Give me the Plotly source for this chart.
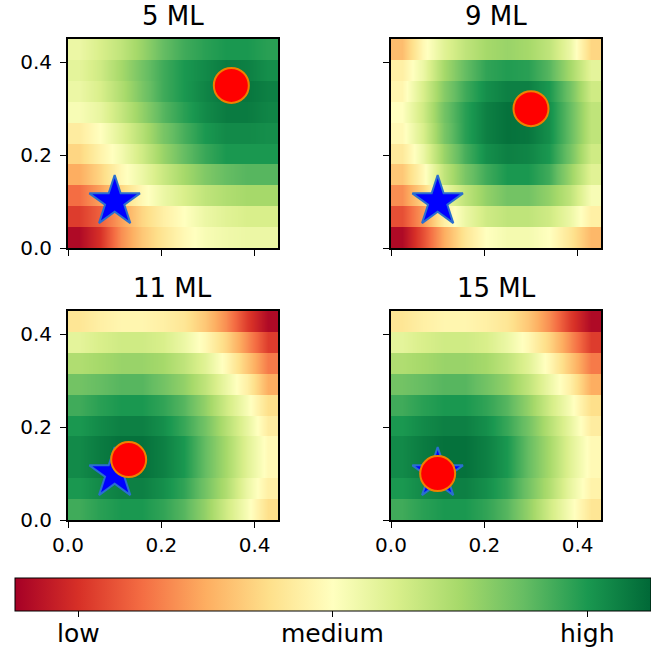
import numpy as np
import plotly.graph_objects as go

# ---------------- data ----------------
TITLES = ["5 ML", "9 ML", "11 ML", "15 ML"]
N_COLS = 10
N_ROWS = 10
X_MAX = 0.45
Y_MAX = 0.45

# normalised values (0 = low / red, 1 = high / green); rows bottom -> top, columns left -> right
Z_5ML = [
    [0.02, 0.10, 0.25, 0.35, 0.42, 0.48, 0.52, 0.54, 0.55, 0.55],
    [0.12, 0.18, 0.28, 0.38, 0.45, 0.50, 0.55, 0.58, 0.60, 0.60],
    [0.20, 0.28, 0.38, 0.48, 0.55, 0.60, 0.65, 0.68, 0.70, 0.70],
    [0.30, 0.38, 0.48, 0.55, 0.63, 0.70, 0.76, 0.80, 0.82, 0.82],
    [0.38, 0.46, 0.53, 0.62, 0.72, 0.80, 0.86, 0.90, 0.90, 0.90],
    [0.44, 0.50, 0.58, 0.67, 0.77, 0.84, 0.90, 0.93, 0.93, 0.92],
    [0.52, 0.56, 0.64, 0.73, 0.82, 0.88, 0.93, 0.96, 0.96, 0.94],
    [0.55, 0.60, 0.68, 0.77, 0.85, 0.90, 0.94, 0.97, 0.97, 0.95],
    [0.57, 0.62, 0.70, 0.78, 0.85, 0.90, 0.93, 0.96, 0.95, 0.92],
    [0.55, 0.60, 0.65, 0.72, 0.80, 0.85, 0.88, 0.90, 0.90, 0.88],
]
Z_9ML = [
    [0.02, 0.15, 0.30, 0.42, 0.50, 0.53, 0.53, 0.50, 0.42, 0.32],
    [0.15, 0.27, 0.45, 0.55, 0.62, 0.65, 0.65, 0.62, 0.55, 0.45],
    [0.25, 0.38, 0.55, 0.65, 0.73, 0.78, 0.78, 0.73, 0.65, 0.52],
    [0.35, 0.48, 0.65, 0.77, 0.85, 0.90, 0.90, 0.85, 0.72, 0.58],
    [0.43, 0.55, 0.72, 0.84, 0.92, 0.95, 0.94, 0.90, 0.78, 0.62],
    [0.48, 0.60, 0.77, 0.88, 0.95, 0.98, 0.97, 0.92, 0.80, 0.65],
    [0.50, 0.62, 0.78, 0.88, 0.95, 0.98, 0.97, 0.92, 0.80, 0.65],
    [0.47, 0.60, 0.75, 0.85, 0.92, 0.95, 0.95, 0.90, 0.78, 0.62],
    [0.45, 0.55, 0.70, 0.80, 0.87, 0.89, 0.88, 0.82, 0.70, 0.57],
    [0.33, 0.48, 0.58, 0.65, 0.70, 0.72, 0.70, 0.65, 0.55, 0.38],
]
Z_11ML = [
    [0.85, 0.88, 0.90, 0.90, 0.87, 0.82, 0.73, 0.62, 0.52, 0.40],
    [0.90, 0.93, 0.95, 0.95, 0.92, 0.87, 0.78, 0.68, 0.55, 0.45],
    [0.93, 0.96, 0.98, 0.98, 0.95, 0.90, 0.80, 0.70, 0.58, 0.48],
    [0.93, 0.96, 0.98, 0.98, 0.95, 0.90, 0.80, 0.70, 0.58, 0.48],
    [0.90, 0.93, 0.95, 0.95, 0.92, 0.86, 0.78, 0.67, 0.56, 0.44],
    [0.85, 0.88, 0.90, 0.90, 0.87, 0.82, 0.73, 0.62, 0.52, 0.40],
    [0.78, 0.80, 0.82, 0.82, 0.78, 0.73, 0.65, 0.55, 0.45, 0.30],
    [0.68, 0.70, 0.72, 0.72, 0.70, 0.65, 0.58, 0.48, 0.35, 0.22],
    [0.57, 0.60, 0.62, 0.62, 0.60, 0.55, 0.48, 0.38, 0.25, 0.12],
    [0.42, 0.45, 0.47, 0.47, 0.45, 0.42, 0.35, 0.25, 0.12, 0.02],
]
Z_15ML = [
    [0.85, 0.88, 0.90, 0.90, 0.87, 0.82, 0.73, 0.62, 0.52, 0.42],
    [0.90, 0.93, 0.95, 0.95, 0.92, 0.87, 0.78, 0.68, 0.56, 0.46],
    [0.93, 0.96, 0.98, 0.98, 0.95, 0.90, 0.80, 0.70, 0.58, 0.48],
    [0.93, 0.96, 0.98, 0.98, 0.95, 0.90, 0.80, 0.70, 0.58, 0.48],
    [0.90, 0.93, 0.95, 0.95, 0.92, 0.86, 0.78, 0.67, 0.56, 0.44],
    [0.85, 0.88, 0.90, 0.90, 0.87, 0.82, 0.73, 0.62, 0.52, 0.40],
    [0.78, 0.80, 0.82, 0.82, 0.78, 0.73, 0.65, 0.55, 0.45, 0.30],
    [0.68, 0.70, 0.72, 0.72, 0.70, 0.65, 0.58, 0.48, 0.35, 0.22],
    [0.57, 0.60, 0.62, 0.62, 0.60, 0.55, 0.48, 0.38, 0.25, 0.12],
    [0.42, 0.45, 0.47, 0.47, 0.45, 0.42, 0.35, 0.25, 0.12, 0.02],
]
Z_ALL = [Z_5ML, Z_9ML, Z_11ML, Z_15ML]

STAR_X = [0.10, 0.10, 0.10, 0.10]
STAR_Y = [0.10, 0.10, 0.10, 0.10]
CIRCLE_X = [0.35, 0.30, 0.13, 0.10]
CIRCLE_Y = [0.35, 0.30, 0.13, 0.10]

CB_TICKVALS = [0.1, 0.5, 0.9]
CB_TICKTEXT = ["low", "medium", "high"]
AXIS_TICKS = [0.0, 0.2, 0.4]

# ---------------- style ----------------
RDYLGN = [
    [0.0, "#a50026"], [0.1, "#d73027"], [0.2, "#f46d43"], [0.3, "#fdae61"],
    [0.4, "#fee08b"], [0.5, "#ffffbf"], [0.6, "#d9ef8b"], [0.7, "#a6d96a"],
    [0.8, "#66bd63"], [0.9, "#1a9850"], [1.0, "#006837"],
]
W, H = 651, 648
FONT = "DejaVu Sans"
CB_LEFT, CB_WIDTH, CB_TOP = 14.7, 636.0, 577.5
CMIN, CMAX = 0.0, 1.0

def px_x(a, b):
    return [a / W, b / W]

def px_y(top, bottom):
    return [1 - bottom / H, 1 - top / H]

X_DOMAINS = [px_x(68, 278), px_x(391, 601), px_x(68, 278), px_x(391, 601)]
Y_DOMAINS = [px_y(39, 248), px_y(39, 248), px_y(311, 520), px_y(311, 520)]

# grid: column centres; each band is drawn as two nearly coincident rows at its
# lower and upper edge so the smoothing stays inside the band (crisp band edges)
x_centers = (np.arange(N_COLS) + 0.5) * X_MAX / N_COLS
row_h = Y_MAX / N_ROWS
eps = row_h * 1e-3
band_lo = np.arange(N_ROWS) * row_h + eps
band_hi = (np.arange(N_ROWS) + 1) * row_h - eps
y_rows = np.column_stack([band_lo, band_hi]).ravel()

fig = go.Figure()
layout = dict(
    width=W, height=H, margin=dict(l=0, r=0, t=0, b=0, autoexpand=False),
    paper_bgcolor="white", plot_bgcolor="white",
    font=dict(family=FONT, color="black"),
    showlegend=False,
    coloraxis=dict(
        colorscale=RDYLGN, cmin=CMIN, cmax=CMAX,
        colorbar=dict(
            orientation="h", x=(CB_LEFT + CB_WIDTH / 2) / W, xanchor="center",
            y=1 - CB_TOP / H, yanchor="top",
            len=CB_WIDTH / W, lenmode="fraction", thickness=33, thicknessmode="pixels",
            xpad=0, ypad=0,
            outlinewidth=1, outlinecolor="black",
            tickmode="array", tickvals=CB_TICKVALS, ticktext=CB_TICKTEXT,
            ticks="outside", ticklen=6, tickwidth=1.3, tickcolor="black",
            showticklabels=False,
        ),
    ),
    annotations=[],
)

# colorbar tick labels placed as annotations under the ticks
for v, t in zip(CB_TICKVALS, CB_TICKTEXT):
    frac = (v - CMIN) / (CMAX - CMIN)
    layout["annotations"].append(dict(
        text=t, xref="paper", yref="paper",
        x=(CB_LEFT + frac * CB_WIDTH) / W, y=1 - 633.5 / H,
        xanchor="center", yanchor="middle", showarrow=False,
        font=dict(family=FONT, size=25, color="black"),
    ))

for i in range(4):
    suffix = "" if i == 0 else str(i + 1)
    xa, ya = "x" + suffix, "y" + suffix
    z_rows = np.repeat(np.array(Z_ALL[i]), 2, axis=0)
    fig.add_trace(go.Heatmap(
        z=z_rows, x=x_centers, y=y_rows,
        coloraxis="coloraxis", zsmooth="best",
        xaxis=xa, yaxis=ya, hoverinfo="skip",
    ))
    fig.add_trace(go.Scatter(
        x=[STAR_X[i]], y=[STAR_Y[i]], mode="markers",
        marker=dict(symbol="star", size=38, color="blue",
                    line=dict(color="#2a6fcf", width=2)),
        xaxis=xa, yaxis=ya, cliponaxis=False,
    ))
    fig.add_trace(go.Scatter(
        x=[CIRCLE_X[i]], y=[CIRCLE_Y[i]], mode="markers",
        marker=dict(symbol="circle", size=35, color="red",
                    line=dict(color="#f08000", width=2)),
        xaxis=xa, yaxis=ya, cliponaxis=False,
    ))
    axis_common = dict(
        range=[0, X_MAX], showgrid=False, zeroline=False,
        showline=True, linecolor="black", linewidth=2, mirror=True,
        ticks="outside", ticklen=6, tickwidth=1.3, tickcolor="black",
        tickmode="array", tickvals=AXIS_TICKS,
        tickfont=dict(family=FONT, size=20, color="black"),
    )
    layout["xaxis" + suffix] = dict(
        axis_common, domain=X_DOMAINS[i], anchor=ya,
        showticklabels=(i >= 2), tickformat=".1f", ticklabelstandoff=0,
    )
    layout["yaxis" + suffix] = dict(
        axis_common, range=[0, Y_MAX], domain=Y_DOMAINS[i], anchor=xa,
        showticklabels=(i % 2 == 0), tickformat=".1f", ticklabelstandoff=4,
    )
    layout["annotations"].append(dict(
        text=TITLES[i], xref="paper", yref="paper",
        x=sum(X_DOMAINS[i]) / 2, y=Y_DOMAINS[i][1] + 6 / H,
        xanchor="center", yanchor="bottom", showarrow=False,
        font=dict(family=FONT, size=26, color="black"),
    ))

fig.update_layout(**layout)
fig.write_html(
    "out.html",
    config={"displayModeBar": False},
    post_script="document.body.style.margin='0px';document.body.style.overflow='hidden';",
)
